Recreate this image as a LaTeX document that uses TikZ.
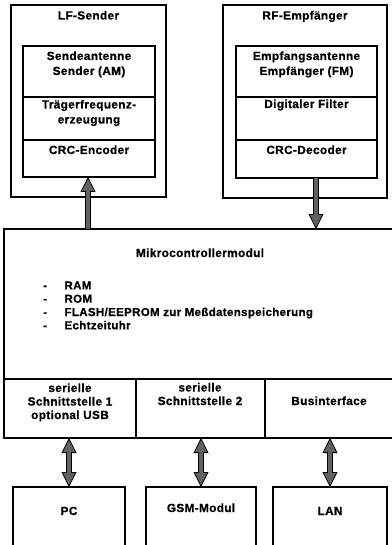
\documentclass[tikz,border=0pt]{standalone}
\usepackage{fontspec}
\setmainfont{Liberation Sans}[LetterSpace=3, BoldFeatures={FakeBold=0.8}]
\usetikzlibrary{arrows.meta}
\definecolor{arrgray}{gray}{0.38}
\tikzset{
  box/.style={draw, line width=1.4pt, anchor=north west, inner sep=0pt, outer sep=0pt},
  txt/.style={font=\bfseries\fontsize{11.8}{15}\selectfont, anchor=base, inner sep=0pt, align=center},
  blockarrow/.style={line width=5.5pt, draw=black,
    -{Triangle[length=15pt,width=15pt,fill=arrgray,color=black,line width=0.8pt]},
    postaction={draw=arrgray, line width=3.3pt, -, shorten >=14pt}},
  dblarrow/.style={line width=5.5pt, draw=black,
    {Triangle[length=15pt,width=15pt,fill=arrgray,color=black,line width=0.8pt]}-{Triangle[length=15pt,width=15pt,fill=arrgray,color=black,line width=0.8pt]},
    postaction={draw=arrgray, line width=3.3pt, -, shorten >=14pt, shorten <=14pt}},
}
\begin{document}
\begin{tikzpicture}[x=1pt,y=-1pt]
\useasboundingbox (0,0) rectangle (391,545);
\fill[white] (0,0) rectangle (391,545);
% LF-Sender
\node[box, minimum width=155pt, minimum height=192pt] (lf) at (11,5) {};
\node[txt] (lft) at (88.5,19.5) {LF-Sender};
\node[box, minimum width=132pt, minimum height=131pt] (lfin) at (23,46) {};
\draw[line width=2.5pt] (lfin.west |- 0,97) coordinate (lfa) -- (lfin.east |- 0,97) coordinate (lfb);
\draw[line width=1.2pt] (lfin.west |- 0,140) coordinate (lfc) -- (lfin.east |- 0,140) coordinate (lfd);
\node[txt] (lf1) at (89,75) {Sendeantenne\\Sender (AM)};
\node[txt] (lf2) at (89,123.5) {Trägerfrequenz-\\erzeugung};
\node[txt] (lf3) at (89,154) {CRC-Encoder};
% RF-Empfaenger
\node[box, minimum width=164pt, minimum height=193pt] (rf) at (223,5) {};
\node[txt] (rft) at (305,19.5) {RF-Empfänger};
\node[box, minimum width=141pt, minimum height=132pt] (rfin) at (236,46) {};
\draw[line width=2.5pt] (rfin.west |- 0,97) coordinate (rfa) -- (rfin.east |- 0,97) coordinate (rfb);
\draw[line width=1.2pt] (rfin.west |- 0,140) coordinate (rfc) -- (rfin.east |- 0,140) coordinate (rfd);
\node[txt] (rf1) at (306.5,75) {Empfangsantenne\\Empfänger (FM)};
\node[txt] (rf2) at (306.5,108) {Digitaler Filter};
\node[txt] (rf3) at (306.5,154) {CRC-Decoder};
% Mikrocontroller
\node[box, line width=1.3pt, minimum width=392pt, minimum height=209pt] (mc) at (4,229) {};
\draw[line width=1.3pt] (mc.west |- 0,379) coordinate (mca) -- (mc.east |- 0,379) coordinate (mcb);
\draw[line width=2.5pt] (mc.south west) -- (mc.south east);
\draw[line width=1.2pt] (136,379) coordinate (d1a) -- (136,438) coordinate (d1b);
\draw[line width=1.2pt] (265,379) coordinate (d2a) -- (265,438) coordinate (d2b);
\node[txt] (mct) at (200,257) {Mikrocontrollermodul};
\node[txt, anchor=base west, align=left, font=\bfseries\fontsize{11.5}{13.3}\selectfont] (list) at (43,329.3)
  {-\hspace{17.5pt}RAM\\-\hspace{17.5pt}ROM\\-\hspace{17.5pt}FLASH/EEPROM zur Meßdatenspeicherung\\-\hspace{17.5pt}Echtzeituhr};
\node[txt, font=\bfseries\fontsize{11.8}{13.5}\selectfont] (s1) at (70,419) {serielle\\Schnittstelle 1\\optional USB};
\node[txt, font=\bfseries\fontsize{11.8}{13.5}\selectfont] (s2) at (200,405) {serielle\\Schnittstelle 2};
\node[txt] (bi) at (329,405) {Businterface};
% bottom boxes
\node[box, minimum width=112pt, minimum height=80pt] (pc) at (13,487) {};
\node[box, minimum width=110pt, minimum height=80pt] (gsm) at (146,487) {};
\node[box, minimum width=114pt, minimum height=80pt] (lan) at (273,487) {};
\node[txt] (pct) at (69,515) {PC};
\node[txt] (gsmt) at (201,512) {GSM-Modul};
\node[txt] (lant) at (330,515) {LAN};
% arrows
\coordinate (ax1) at (88,0);
\coordinate (ax2) at (316,0);
\draw[blockarrow] (mc.north -| ax1) -- (lfin.south -| ax1);
\draw[blockarrow] (rfin.south -| ax2) -- (mc.north -| ax2);
\draw[dblarrow] (mc.south -| pc.north) -- (pc.north);
\draw[dblarrow] (mc.south -| gsm.north) -- (gsm.north);
\draw[dblarrow] (mc.south -| lan.north) -- (lan.north);
\end{tikzpicture}
\end{document}
